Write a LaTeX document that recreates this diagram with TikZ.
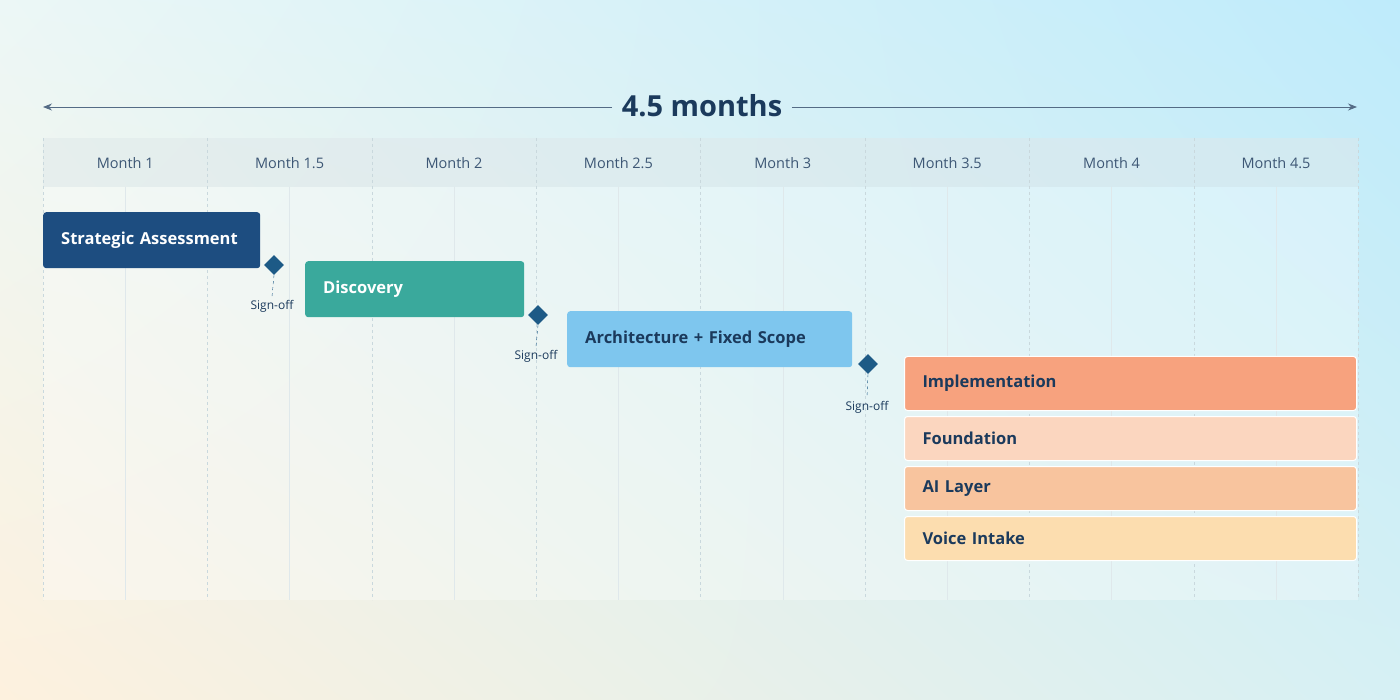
\documentclass[tikz,border=0pt]{standalone}
\usepackage{fontspec}
\setmainfont{Open Sans}
\usepackage{tikz}
\usetikzlibrary{positioning,shapes,arrows.meta,fit,backgrounds,shadings}
\usepackage{xcolor}
\definecolor{navy}{HTML}{1B3A5C}
\definecolor{gridline}{HTML}{C9D8DD}
\definecolor{bgul}{HTML}{ECF7F6}
\definecolor{bgur}{HTML}{BEEBFB}
\definecolor{bgll}{HTML}{FDF1DE}
\definecolor{bglr}{HTML}{D6F0F4}
\definecolor{stratc}{HTML}{1D4D80}
\definecolor{discc}{HTML}{3AA99C}
\definecolor{archc}{HTML}{7EC6EE}
\definecolor{implc}{HTML}{F7A27E}
\definecolor{foundc}{HTML}{FBD6BF}
\definecolor{aic}{HTML}{F8C49E}
\definecolor{voicec}{HTML}{FCDDAF}
\definecolor{milec}{HTML}{1D5A86}

\begin{document}
\begin{tikzpicture}[x=1pt, y=-1pt,
    phase/.style={
        rectangle,
        rounded corners=3pt,
        anchor=north west,
        inner xsep=18pt,
        align=left,
        font=\bfseries\fontsize{16.5}{18}\selectfont,
        text=navy
    },
    subphase/.style={
        phase,
        draw=white,
        line width=1pt,
        text width=416pt,
        minimum height=44pt
    },
    milestone/.style={
        diamond,
        fill=milec,
        minimum size=20pt,
        inner sep=0pt
    },
    signoff/.style={
        font=\fontsize{12}{13}\selectfont,
        text=navy
    },
    month/.style={
        font=\fontsize{14.5}{16}\selectfont,
        text=navy!85
    },
    span/.style={
        >={Stealth[length=9pt,width=7pt]},
        draw=navy!75,
        line width=0.8pt
    }
]
    % Background
    \shade[upper left=bgul, upper right=bgur, lower left=bgll, lower right=bglr]
        (0,0) rectangle (1400,700);
    \fill[white, opacity=0.3] (43,138) rectangle (1358,600);
    \fill[gridline, opacity=0.3] (43,138) rectangle (1358,187);
    \useasboundingbox (0,0) rectangle (1400,700);

    % Grid and month labels
    \foreach \i/\lab in {0/Month 1, 1/Month 1.5, 2/Month 2, 3/Month 2.5,
                         4/Month 3, 5/Month 3.5, 6/Month 4, 7/Month 4.5} {
        \node[month] (m\i) at ({43+164.4*\i+82.2},163) {\lab};
        \draw[gridline, dashed] ({43+164.4*\i},138) -- ({43+164.4*\i},600);
        \draw[gridline!60, thin] ({43+164.4*\i+82.2},187) -- ({43+164.4*\i+82.2},600);
    }
    \draw[gridline, dashed] (1358,138) -- (1358,600);

    % Overall span
    \node[font=\bfseries\fontsize{29}{31}\selectfont, text=navy] (total) at (702,106) {4.5 months};
    \coordinate (spanL) at (43,107);
    \coordinate (spanR) at (1357,107);
    \draw[span, ->] ([xshift=-6pt,yshift=-1pt]total.west) -- (spanL);
    \draw[span, ->] ([xshift=6pt,yshift=-1pt]total.east) -- (spanR);

    % Phases
    \node[phase, fill=stratc, text=white, text width=181pt, minimum height=56pt] (strat) at (43,212) {Strategic Assessment};
    \node[phase, fill=discc, text=white, text width=183pt, minimum height=56pt] (disc) at (305,261) {Discovery};
    \node[phase, fill=archc, text width=249pt, minimum height=56pt] (arch) at (567,311) {Architecture + Fixed Scope};
    \node[phase, fill=implc, draw=white, line width=1pt, text width=416pt, minimum height=54pt] (impl) at (904,356) {Implementation};
    \node[subphase, fill=foundc] (found) at (904,416) {Foundation};
    \node[subphase, fill=aic] (ai) at (904,466) {AI Layer};
    \node[subphase, fill=voicec] (voice) at (904,516) {Voice Intake};

    % Sign-off milestones
    \node[milestone] (ms1) at (274,265) {};
    \node[signoff] (so1) at (272,306) {Sign-off};
    \node[milestone] (ms2) at (538,315) {};
    \node[signoff] (so2) at (536,356) {Sign-off};
    \node[milestone] (ms3) at (868,364) {};
    \node[signoff] (so3) at (867,407) {Sign-off};
    \foreach \k in {1,2,3}
        \draw[milec, dashed] (ms\k.south) -- (so\k.north);
\end{tikzpicture}
\end{document}
